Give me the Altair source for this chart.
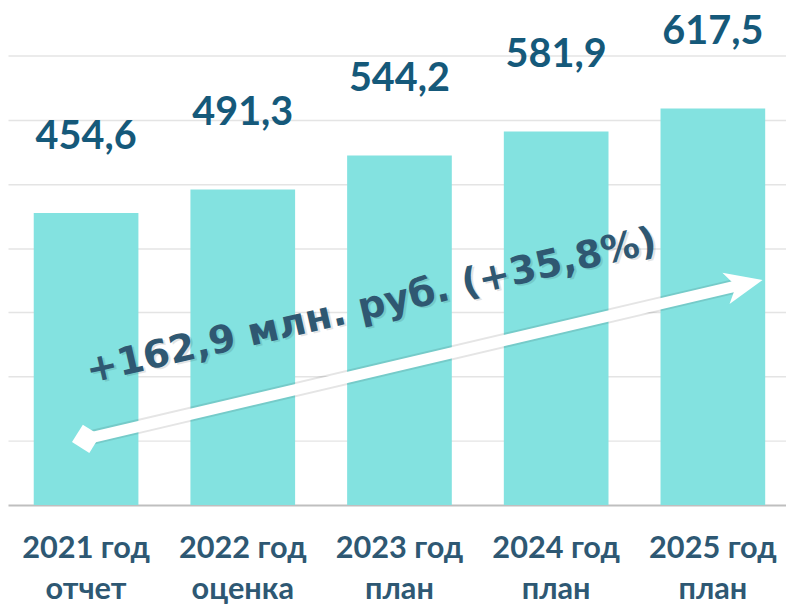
import altair as alt
import pandas as pd

years = ["2021 год", "2022 год", "2023 год", "2024 год", "2025 год"]
kinds = ["отчет", "оценка", "план", "план", "план"]
values = [454.6, 491.3, 544.2, 581.9, 617.5]
value_labels = ["454,6", "491,3", "544,2", "581,9", "617,5"]
grid_values = [100, 200, 300, 400, 500, 600, 700]
y_max = 700

annotation_text = "+162,9 млн. руб. (+35,8%)"
annotation_value = 310          # vertical anchor of the annotation, in chart units
arrow_values = [103, 344]       # start / end of the growth arrow, in chart units

cats = [f"{y}|{k}" for y, k in zip(years, kinds)]
df = pd.DataFrame({"cat": cats, "value": values, "label": value_labels})

BAR = "#83E2E0"
LABEL = "#15597A"
TEXT = "#2F5872"
AXIS_TXT = "#2E5873"

xscale = alt.Scale(paddingInner=0.332, paddingOuter=0.1485, align=0.553)
yscale = alt.Scale(domain=[0, y_max], nice=False)

x_axis = alt.Axis(
    title=None, labelExpr="split(datum.label, '|')", labelAngle=0,
    labelFont="Lato", labelFontWeight="bold", labelFontSize=31,
    labelColor=AXIS_TXT, labelLineHeight=42, labelBaseline="alphabetic",
    labelPadding=53, ticks=False, domainColor="#BFBFBF", domainWidth=2,
    grid=False, labelLimit=0,
)
y_axis = alt.Axis(
    title=None, labels=False, ticks=False, domain=False, grid=True,
    values=grid_values, gridColor="#E4E4E4", gridWidth=1.5,
)


def X(field, band=0.5):
    return alt.X(field, type="nominal", sort=cats, scale=xscale, axis=x_axis,
                 bandPosition=band, title=None)


def Y(field):
    return alt.Y(field, type="quantitative", scale=yscale, axis=y_axis, title=None)


bars = alt.Chart(df).mark_bar(color=BAR).encode(
    x=alt.X("cat:N", sort=cats, scale=xscale, axis=x_axis, title=None),
    y=Y("value"),
)

labels = alt.Chart(df).mark_text(
    font="Lato", fontWeight="bold", fontSize=40, color=LABEL,
    baseline="alphabetic", dy=-65,
).encode(x=X("cat"), y=Y("value"), text="label:N")

arrow_df = pd.DataFrame({
    "x0": [cats[0]], "x1": [cats[-1]],
    "y0": [arrow_values[0]], "y1": [arrow_values[1]],
})
arrow_shadow = alt.Chart(arrow_df).mark_rule(
    color="#000000", opacity=0.10, strokeWidth=15
).encode(
    x=X("x0", 0.5), x2=alt.X2("x1", bandPosition=0.8),
    y=Y("y0"), y2="y1",
)
arrow = alt.Chart(arrow_df).mark_rule(color="white", strokeWidth=11).encode(
    x=X("x0", 0.5), x2=alt.X2("x1", bandPosition=0.8),
    y=Y("y0"), y2="y1",
)

head_df = pd.DataFrame({"cat": [cats[-1]], "value": [arrow_values[1]]})
head = alt.Chart(head_df).mark_point(
    shape="M1,0 L-1,-0.85 L-0.45,0 L-1,0.85 Z", filled=True, fill="white",
    opacity=1, size=1444, angle=347, strokeWidth=0,
).encode(x=X("cat", 0.8), y=Y("value"))

tail_df = pd.DataFrame({"cat": [cats[0]], "value": [arrow_values[0]]})
tail = alt.Chart(tail_df).mark_point(
    shape="diamond", filled=True, fill="white", opacity=1, size=850,
    angle=347, strokeWidth=0,
).encode(x=X("cat", 0.5), y=Y("value"))

ann_df = pd.DataFrame({"cat": [cats[2]], "value": [annotation_value], "t": [annotation_text]})
ann_base = alt.Chart(ann_df).encode(
    x=X("cat", 0.23), y=Y("value"), text="t:N",
)
ann_shadow = ann_base.mark_text(
    font="DejaVu Sans", fontWeight="bold", fontSize=38.5, color="#000000",
    opacity=0.10, angle=347, align="center", baseline="middle", dx=2, dy=2,
)
ann = ann_base.mark_text(
    font="DejaVu Sans", fontWeight="bold", fontSize=38.5, color=TEXT,
    angle=347, align="center", baseline="middle",
)

chart = alt.layer(
    bars, arrow_shadow, arrow, head, tail, labels, ann_shadow, ann
).properties(
    width=786, height=454,
    autosize=alt.AutoSizeParams(type="none"),
    padding={"left": 0, "right": 0, "top": 45, "bottom": 99},
).configure_view(stroke=None)

chart.save("out.html", embed_options={"renderer": "svg", "actions": False})
